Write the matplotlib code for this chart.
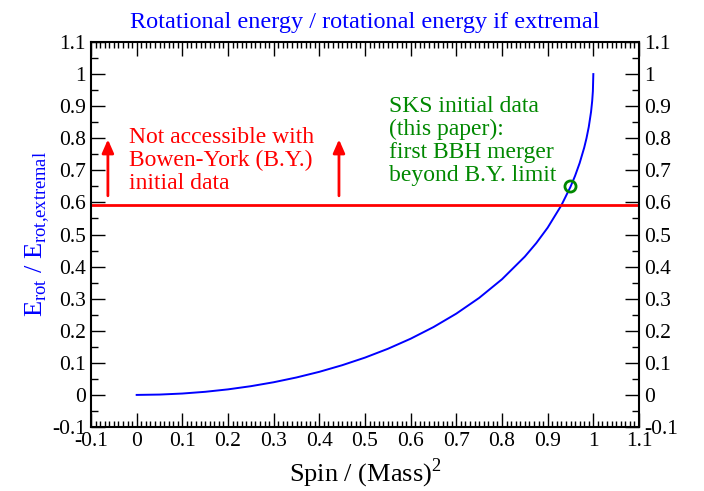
import numpy as np
import matplotlib
matplotlib.use("Agg")
import matplotlib.pyplot as plt
from matplotlib.ticker import MultipleLocator

plt.rcParams['font.family'] = ['Liberation Serif', 'DejaVu Serif']
plt.rcParams['mathtext.fontset'] = 'custom'
plt.rcParams['mathtext.rm'] = 'Liberation Serif'

# curve
spin = [0.0, 0.05, 0.1, 0.15, 0.2, 0.25, 0.3, 0.35, 0.4, 0.45, 0.5, 0.55, 0.6,
        0.65, 0.7, 0.75, 0.8, 0.85, 0.875, 0.9, 0.93, 0.95, 0.96, 0.97, 0.98,
        0.985, 0.99, 0.995, 0.9975, 0.999, 1.0]
erot_ratio = [0.0, 0.0011, 0.0043, 0.0097, 0.0173, 0.0272, 0.0395, 0.0544, 0.0720,
              0.0926, 0.1163, 0.1437, 0.1752, 0.2115, 0.2534, 0.3024, 0.3605, 0.4311,
              0.4731, 0.5213, 0.5910, 0.6487, 0.6828, 0.7225, 0.7707, 0.8000, 0.8353,
              0.8823, 0.9162, 0.9466, 1.0]

by_limit = 0.593
arrow_x = [-0.063, 0.443]
arrow_y = (0.612, 0.805)
sks_point = (0.95, 0.65)

fig = plt.figure(figsize=(7.04, 4.91), dpi=100)
ax = fig.add_axes([91/704, 1 - 427/491, 548/704, 385/491])

ax.plot(spin, erot_ratio, color='#0000ff', lw=1.4)
ax.axhline(by_limit, color='#ff0000', lw=2)
for xa in arrow_x:
    ax.annotate('', xy=(xa, arrow_y[1]), xytext=(xa, arrow_y[0]),
                arrowprops=dict(arrowstyle='-|>,head_width=0.35,head_length=0.8',
                                color='#ff0000', lw=2))
ax.plot(*sks_point, 'o', mfc='none', mec='#008800', mew=2, ms=8)

ax.text(-0.017, 0.73, 'Not accessible with\nBowen-York (B.Y.)\ninitial data',
        color='#ff0000', fontsize=17, va='center', ha='left', linespacing=1.12)
ax.text(0.553, 0.792, 'SKS initial data\n(this paper):\nfirst BBH merger\nbeyond B.Y. limit',
        color='#008800', fontsize=17, va='center', ha='left', linespacing=1.12)

ax.set_xlim(-0.1, 1.1)
ax.set_ylim(-0.1, 1.1)
ax.xaxis.set_major_locator(MultipleLocator(0.1))
ax.xaxis.set_minor_locator(MultipleLocator(0.01))
ax.yaxis.set_major_locator(MultipleLocator(0.1))
ax.yaxis.set_minor_locator(MultipleLocator(0.05))
ax.tick_params(which='both', direction='in', top=True, right=True,
               labelright=True, labelsize=15.5, width=1)
ax.tick_params(which='major', length=10)
ax.tick_params(which='minor', length=5)
ax.tick_params(axis='x', which='minor', length=4)

fmt = lambda v, p: ('%.1f' % v).rstrip('0').rstrip('.') if abs(v) > 1e-9 else '0'
ax.xaxis.set_major_formatter(fmt)
ax.yaxis.set_major_formatter(fmt)
for s in ax.spines.values():
    s.set_linewidth(1.5)

ax.set_title('Rotational energy / rotational energy if extremal',
             color='#0000ff', fontsize=17.5, pad=10)
ax.set_xlabel('Spin / (Mass)$^2$', fontsize=19, labelpad=4)
ax.set_ylabel(r'E$_\mathrm{rot}$ / E$_\mathrm{rot{,}extremal}$', color='#0000ff',
              fontsize=19, labelpad=0)

fig.savefig('out.png', dpi=100)
